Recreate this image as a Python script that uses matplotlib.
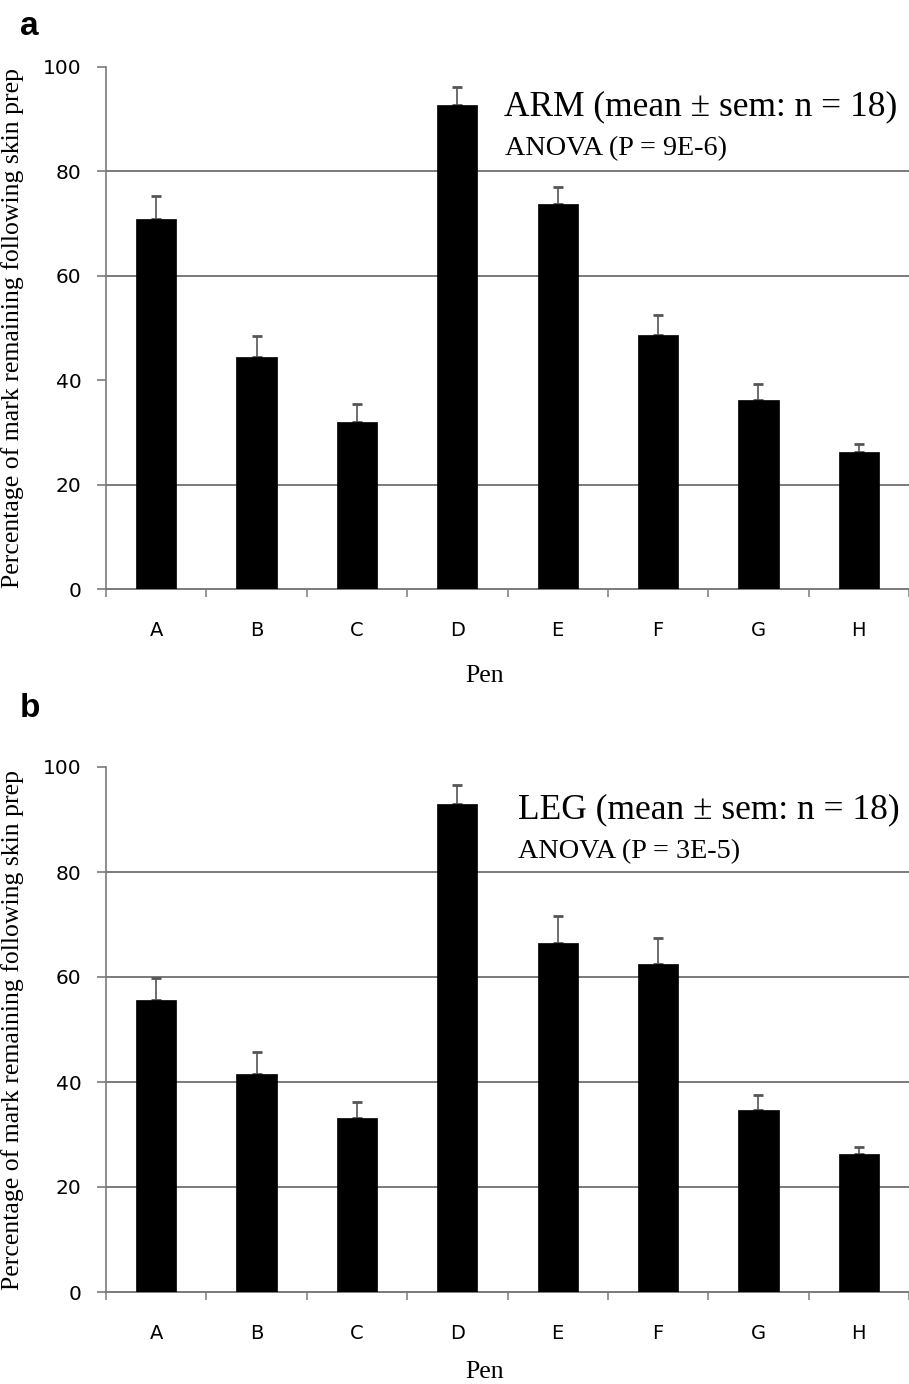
import matplotlib
matplotlib.use("Agg")
import matplotlib.pyplot as plt
import numpy as np

# ---- data ----
pens = ["A", "B", "C", "D", "E", "F", "G", "H"]
arm_mean = [70.8, 44.5, 31.9, 92.7, 73.8, 48.6, 36.2, 26.3]
arm_sem = [4.4, 3.9, 3.5, 3.4, 3.2, 3.9, 3.1, 1.5]
leg_mean = [55.6, 41.5, 33.2, 93.0, 66.5, 62.4, 34.6, 26.2]
leg_sem = [4.2, 4.2, 3.0, 3.5, 5.1, 5.1, 2.9, 1.4]
y_ticks = [0, 20, 40, 60, 80, 100]
arm_title = "ARM (mean \u00b1 sem: n = 18)"
arm_anova = "ANOVA (P = 9E-6)"
leg_title = "LEG (mean \u00b1 sem: n = 18)"
leg_anova = "ANOVA (P = 3E-5)"
ylabel = "Percentage of mark remaining following skin prep"
xlabel = "Pen"

W, H = 909, 1384
fig = plt.figure(figsize=(W / 100, H / 100), dpi=100)

SERIF = ["Liberation Serif", "DejaVu Serif"]
SANS = ["DejaVu Sans"]
GRAY = "#7a7a7a"

def px_rect(left, top, right, bottom):
    return [left / W, 1 - bottom / H, (right - left) / W, (bottom - top) / H]

def panel(rect, means, sems, grid_vals, title, anova, title_xy, anova_xy,
          pen_y, letter, letter_y):
    ax = fig.add_axes(px_rect(*rect))
    x = np.arange(len(pens))
    cat_px = 101.7
    width_px = rect[2] - rect[0]
    ax.set_xlim(-0.5, -0.5 + width_px / cat_px)
    ax.set_ylim(0, 100)
    for g in grid_vals:
        ax.axhline(g, color=GRAY, lw=1.4, zorder=1)
    ax.bar(x, means, width=0.4, color="black", edgecolor="black", lw=0.5, zorder=3)
    ax.errorbar(x, means, yerr=[np.zeros(len(means)), sems], fmt="none",
                ecolor="#555555", elinewidth=1.2, capsize=3.6, capthick=2.0, zorder=2)
    for s in ["top", "right"]:
        ax.spines[s].set_visible(False)
    ax.spines["left"].set_color(GRAY)
    ax.spines["left"].set_linewidth(1.2)
    ax.spines["bottom"].set_color(GRAY)
    ax.spines["bottom"].set_linewidth(1.4)
    ax.spines["left"].set_zorder(4)
    ax.set_yticks(y_ticks)
    ax.set_yticklabels([str(v) for v in y_ticks], fontfamily=SANS, fontsize=14.5)
    ax.tick_params(axis="y", length=6.5, width=1.2, color=GRAY, pad=11)
    ax.set_xticks(x)
    ax.set_xticklabels(pens, fontfamily=SANS, fontsize=14)
    ax.set_xticks(np.arange(-0.5, 8, 1.0), minor=True)
    ax.tick_params(axis="x", which="major", length=0, pad=23)
    ax.tick_params(axis="x", which="minor", length=5.5, width=1.1, color=GRAY)
    ax.set_ylabel(ylabel, fontfamily=SERIF, fontsize=18.5)
    ax.yaxis.set_label_coords(-(rect[0] - 24) / width_px, 0.5)
    fig.text(title_xy[0] / W, 1 - title_xy[1] / H, title, fontfamily=SERIF,
             fontsize=25.5, va="baseline", ha="left")
    fig.text(anova_xy[0] / W, 1 - anova_xy[1] / H, anova, fontfamily=SERIF,
             fontsize=20.3, va="baseline", ha="left")
    fig.text(485 / W, 1 - pen_y / H, xlabel, fontfamily=SERIF, fontsize=18.5,
             va="baseline", ha="center")
    fig.text(20 / W, 1 - letter_y / H, letter, fontfamily=["Liberation Sans", "DejaVu Sans"],
             fontweight="bold", fontsize=24, va="baseline", ha="left")
    return ax

panel((106, 67, 909, 589), arm_mean, arm_sem, [20, 60, 80],
      arm_title, arm_anova, (504, 115), (505, 155), 682, "a", 35)
panel((106, 767, 909, 1292), leg_mean, leg_sem, [20, 40, 60, 80],
      leg_title, leg_anova, (518, 818), (518, 858), 1378, "b", 717)

fig.savefig("out.png", dpi=100)
